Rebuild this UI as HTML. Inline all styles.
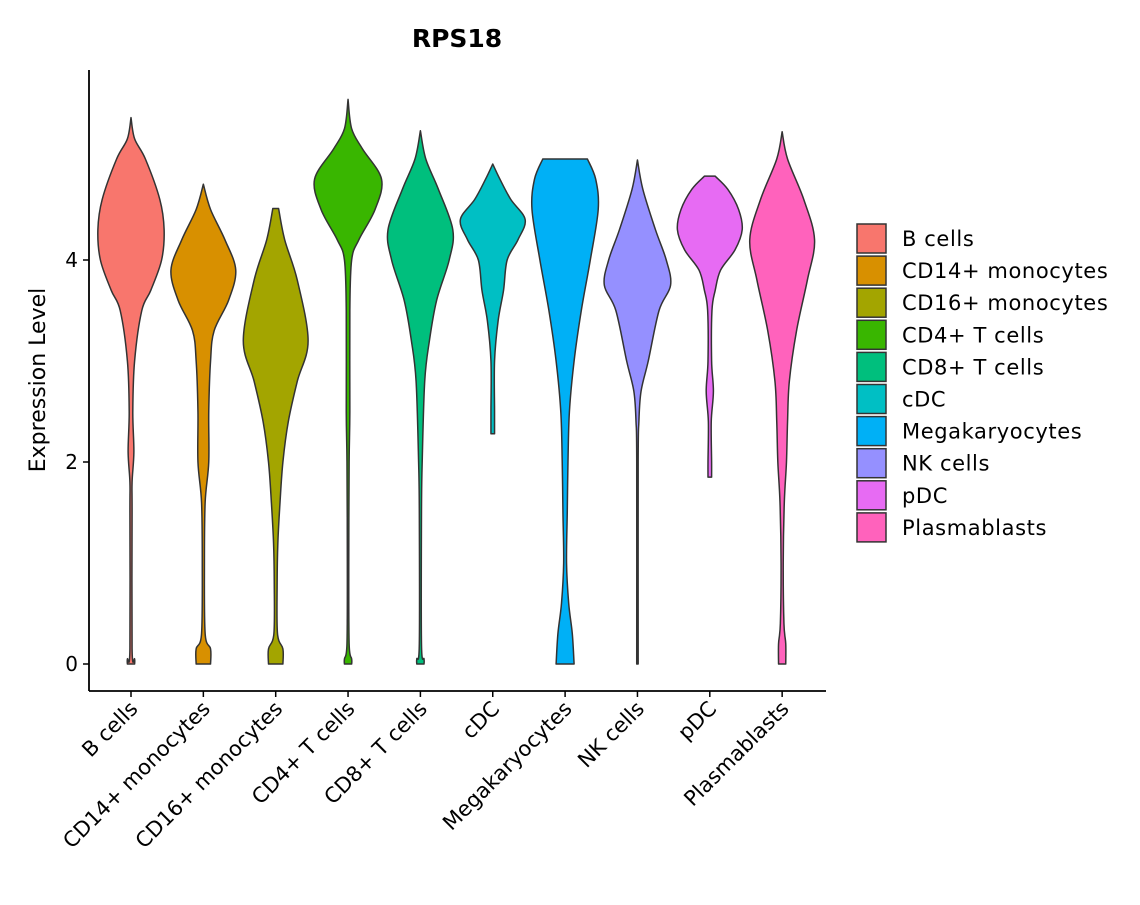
<!DOCTYPE html>
<html><head><meta charset="utf-8"><style>
body{margin:0;background:#fff}
svg{font-family:"DejaVu Sans","Liberation Sans",sans-serif}
</style></head><body>
<svg id="chart" width="1140" height="900" viewBox="0 0 1140 900">
<text x="457" y="47" text-anchor="middle" font-size="25" font-weight="bold">RPS18</text>
<text transform="translate(45,380) rotate(-90)" text-anchor="middle" font-size="22">Expression Level</text>
<g id="plot"></g>
<g id="legend"></g>
</svg>
<script>
const categories=["B cells","CD14+ monocytes","CD16+ monocytes","CD4+ T cells","CD8+ T cells","cDC","Megakaryocytes","NK cells","pDC","Plasmablasts"];
const colors=["#F8766D","#D89000","#A3A500","#39B600","#00BF7D","#00BFC4","#00B0F6","#9590FF","#E76BF3","#FF62BC"];
const yTicks=[0,2,4];
// density profiles: [value, relative half-width]
const dB=[[5.41,0],[5.2,0.1],[5.0,0.4],[4.6,0.8],[4.3,0.92],[4.0,0.85],[3.7,0.55],[3.5,0.3],[3.0,0.1],[2.5,0.05],[2.1,0.08],[1.8,0.03],[1.5,0.03],[0.15,0.03],[0.05,0.1],[0,0.1]];
const dCD14=[[4.75,0],[4.5,0.2],[4.2,0.6],[3.9,0.9],[3.6,0.7],[3.3,0.3],[3.0,0.2],[2.5,0.15],[2.0,0.15],[1.6,0.05],[1.0,0.03],[0.3,0.05],[0.15,0.2],[0,0.2]];
const dCD16=[[4.51,0.08],[4.2,0.25],[3.8,0.6],[3.2,0.9],[2.8,0.6],[2.4,0.35],[2.0,0.2],[1.6,0.12],[1.2,0.06],[0.8,0.04],[0.3,0.05],[0.15,0.2],[0,0.2]];
const dCD4=[[5.59,0],[5.3,0.1],[5.1,0.4],[4.8,0.93],[4.5,0.75],[4.2,0.3],[4.0,0.1],[3.5,0.05],[2.5,0.05],[2.0,0.03],[1.0,0.02],[0.2,0.03],[0.05,0.1],[0,0.1]];
const dCD8=[[5.28,0],[5.0,0.15],[4.7,0.5],[4.3,0.9],[4.0,0.8],[3.6,0.45],[3.2,0.25],[2.8,0.12],[2.0,0.05],[1.5,0.03],[0.2,0.03],[0.05,0.1],[0,0.1]];
const dcDC=[[4.95,0],[4.8,0.2],[4.6,0.5],[4.4,0.9],[4.2,0.7],[4.0,0.4],[3.7,0.3],[3.4,0.15],[3.0,0.05],[2.5,0.05],[2.28,0.05]];
const dMega=[[5.0,0.62],[4.8,0.85],[4.5,0.92],[4.0,0.7],[3.5,0.45],[3.0,0.25],[2.5,0.12],[2.0,0.08],[1.5,0.06],[1.0,0.04],[0.6,0.1],[0.3,0.2],[0,0.25]];
const dNK=[[4.99,0],[4.7,0.15],[4.3,0.5],[4.0,0.8],[3.75,0.92],[3.5,0.6],[3.0,0.3],[2.7,0.1],[2.4,0.04],[2.0,0.02],[0,0.02]];
const dpDC=[[4.83,0.15],[4.7,0.5],[4.5,0.8],[4.3,0.9],[4.1,0.7],[3.9,0.3],[3.7,0.15],[3.5,0.06],[3.0,0.05],[2.7,0.1],[2.4,0.04],[2.0,0.05],[1.85,0.05]];
const dPlasma=[[5.27,0],[5.0,0.15],[4.6,0.6],[4.2,0.9],[3.8,0.7],[3.3,0.4],[2.8,0.2],[2.4,0.15],[2.0,0.12],[1.6,0.06],[1.0,0.03],[0.4,0.05],[0.2,0.1],[0,0.1]];
const densities=[dB,dCD14,dCD16,dCD4,dCD8,dcDC,dMega,dNK,dpDC,dPlasma];

const NS="http://www.w3.org/2000/svg";
const X0=89,X1=826,Y0=691,YTOP=70;
const y=v=>664-v*101;
const x=i=>131+i*72.35;
const HW=36;
const plot=document.getElementById('plot');
function mk(tag,attrs,parent){const e=document.createElementNS(NS,tag);for(const k in attrs)e.setAttribute(k,attrs[k]);parent.appendChild(e);return e;}
function curve(pts){
  let s="";
  for(let k=1;k<pts.length;k++){
    const p0=pts[Math.max(k-2,0)],p1=pts[k-1],p2=pts[k],p3=pts[Math.min(k+1,pts.length-1)];
    const c1=[p1[0]+(p2[0]-p0[0])/6,p1[1]+(p2[1]-p0[1])/6];
    const c2=[p2[0]-(p3[0]-p1[0])/6,p2[1]-(p3[1]-p1[1])/6];
    s+=`C${c1[0].toFixed(2)},${c1[1].toFixed(2)} ${c2[0].toFixed(2)},${c2[1].toFixed(2)} ${p2[0].toFixed(2)},${p2[1].toFixed(2)}`;
  }
  return s;
}
densities.forEach((d,i)=>{
  const cx=x(i);
  const right=d.map(p=>[cx+p[1]*HW,y(p[0])]);
  const left=d.slice().reverse().map(p=>[cx-p[1]*HW,y(p[0])]);
  let s="M"+right[0][0]+","+right[0][1]+curve(right)+"L"+left[0][0]+","+left[0][1]+curve(left)+"Z";
  const v=mk('path',{d:s,fill:colors[i],stroke:'#333',"stroke-width":1.5,"stroke-linejoin":"round"},plot);
  
  
  const t=mk('line',{x1:cx,x2:cx,y1:Y0,y2:Y0+6,stroke:'#000',"stroke-width":1.5},plot);
  
  
  const lb=mk('text',{transform:`translate(${cx+8},${Y0+19}) rotate(-45)`,"text-anchor":"end","font-size":21},plot);
  lb.textContent=categories[i];
  
  
});
yTicks.forEach(v=>{
  const t=mk('line',{x1:X0-6,x2:X0,y1:y(v),y2:y(v),stroke:'#000',"stroke-width":1.5},plot);
  
  
  const lb=mk('text',{x:X0-11,y:y(v)+7,"text-anchor":"end","font-size":20},plot);
  lb.textContent=v;
  
  
});
const ya=mk('line',{x1:X0,x2:X0,y1:YTOP,y2:Y0,stroke:'#000',"stroke-width":1.8},plot);


const xa=mk('line',{x1:X0,x2:X1,y1:Y0,y2:Y0,stroke:'#000',"stroke-width":1.8},plot);



const leg=document.getElementById('legend');


categories.forEach((c,i)=>{
  const ty=224+i*32.1;
  const g=mk('g',{},leg);
  
  
  mk('rect',{x:857,y:ty,width:29,height:29,fill:colors[i],stroke:'#333',"stroke-width":1.5},g);
  const t=mk('text',{x:902,y:ty+22,"font-size":21,"letter-spacing":"0.6"},g);
  t.textContent=c;
});
</script>
</body></html>
